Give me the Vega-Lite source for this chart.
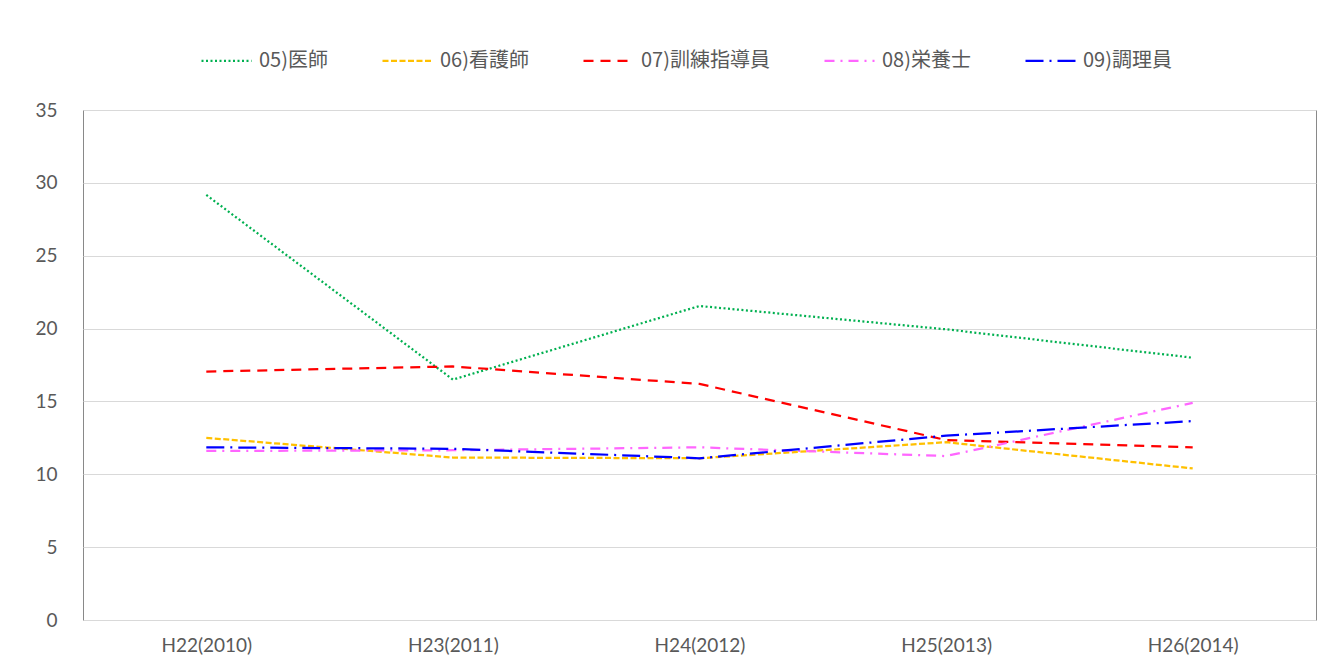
{
  "$schema": "https://vega.github.io/schema/vega-lite/v6.json",
  "width": 1233,
  "height": 510,
  "autosize": "none",
  "padding": {"left": 83, "top": 110, "right": 22, "bottom": 45},
  "background": "white",
  "config": {
    "view": {"stroke": "#898989", "strokeWidth": 1},
    "font": "Noto Sans CJK JP"
  },
  "data": {
    "values": [
      {"year": "H22(2010)", "series": "05)医師", "value": 29.17},
      {"year": "H23(2011)", "series": "05)医師", "value": 16.5},
      {"year": "H24(2012)", "series": "05)医師", "value": 21.55},
      {"year": "H25(2013)", "series": "05)医師", "value": 19.95},
      {"year": "H26(2014)", "series": "05)医師", "value": 18.0},
      {"year": "H22(2010)", "series": "06)看護師", "value": 12.5},
      {"year": "H23(2011)", "series": "06)看護師", "value": 11.15},
      {"year": "H24(2012)", "series": "06)看護師", "value": 11.1},
      {"year": "H25(2013)", "series": "06)看護師", "value": 12.2},
      {"year": "H26(2014)", "series": "06)看護師", "value": 10.4},
      {"year": "H22(2010)", "series": "07)訓練指導員", "value": 17.05},
      {"year": "H23(2011)", "series": "07)訓練指導員", "value": 17.4},
      {"year": "H24(2012)", "series": "07)訓練指導員", "value": 16.2},
      {"year": "H25(2013)", "series": "07)訓練指導員", "value": 12.35},
      {"year": "H26(2014)", "series": "07)訓練指導員", "value": 11.85},
      {"year": "H22(2010)", "series": "08)栄養士", "value": 11.6},
      {"year": "H23(2011)", "series": "08)栄養士", "value": 11.65},
      {"year": "H24(2012)", "series": "08)栄養士", "value": 11.85},
      {"year": "H25(2013)", "series": "08)栄養士", "value": 11.25},
      {"year": "H26(2014)", "series": "08)栄養士", "value": 14.9},
      {"year": "H22(2010)", "series": "09)調理員", "value": 11.85},
      {"year": "H23(2011)", "series": "09)調理員", "value": 11.75},
      {"year": "H24(2012)", "series": "09)調理員", "value": 11.1},
      {"year": "H25(2013)", "series": "09)調理員", "value": 12.65},
      {"year": "H26(2014)", "series": "09)調理員", "value": 13.65}
    ]
  },
  "mark": {"type": "line", "strokeWidth": 2.25},
  "encoding": {
    "x": {
      "field": "year",
      "type": "nominal",
      "sort": null,
      "scale": {"type": "point", "padding": 0.5},
      "axis": {
        "title": null,
        "labelAngle": 0,
        "labelFont": "Lato",
        "labelFontSize": 19,
        "labelColor": "#595959",
        "labelPadding": 16,
        "ticks": false,
        "domain": false,
        "grid": false
      }
    },
    "y": {
      "field": "value",
      "type": "quantitative",
      "scale": {"domain": [0, 35]},
      "axis": {
        "title": null,
        "values": [0, 5, 10, 15, 20, 25, 30, 35],
        "labelFont": "Lato",
        "labelFontSize": 19,
        "labelColor": "#595959",
        "labelPadding": 26,
        "ticks": false,
        "domain": false,
        "gridColor": "#d9d9d9",
        "gridWidth": 1
      }
    },
    "color": {
      "field": "series",
      "type": "nominal",
      "scale": {
        "domain": ["05)医師", "06)看護師", "07)訓練指導員", "08)栄養士", "09)調理員"],
        "range": ["#00b050", "#ffc000", "#ff0000", "#ff66ff", "#0000ff"]
      },
      "legend": {
        "title": null,
        "orient": "none",
        "direction": "horizontal",
        "legendX": 117,
        "legendY": -76,
        "symbolType": "stroke",
        "symbolSize": 2500,
        "symbolStrokeWidth": 2.25,
        "labelFont": "Noto Sans CJK JP",
        "labelFontSize": 20,
        "labelColor": "#595959",
        "labelOffset": 6,
        "columnPadding": 50
      }
    },
    "strokeDash": {
      "field": "series",
      "type": "nominal",
      "scale": {
        "domain": ["05)医師", "06)看護師", "07)訓練指導員", "08)栄養士", "09)調理員"],
        "range": [[2, 2.5], [6, 2.5], [10, 7], [10, 6, 2, 6], [18, 6, 2, 6]]
      },
      "legend": null
    }
  }
}
